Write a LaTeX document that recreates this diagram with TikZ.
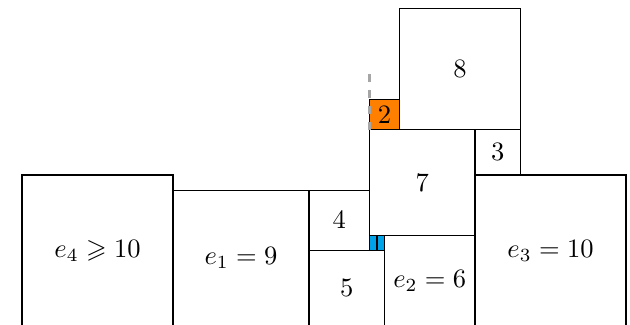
\documentclass[tikz,border=0pt]{standalone}
\usepackage{amssymb}
\usetikzlibrary{calc}
\definecolor{sqorange}{RGB}{255,128,0}
\definecolor{sqblue}{RGB}{0,162,232}
\tikzset{
  sqline/.style={draw=black, line width=0.45pt},
  sqlabel/.style={inner sep=0pt, font=\normalsize},
  guide/.style={draw=gray!70, dashed, line width=0.9pt}
}
\begin{document}
\begin{tikzpicture}[x=0.2cm,y=0.2cm]
\useasboundingbox (-1.46,0.07) rectangle (40.26,21.59);
\clip (-1.46,0.07) rectangle (40.26,21.59);
% squares
\draw[sqline] (0,0) rectangle (10,10);
\node[sqlabel] (e4) at (5,5) {$e_4 \geqslant 10$};
\draw[sqline] (10,0) rectangle (19,9);
\node[sqlabel] (e1) at (14.5,4.5) {$e_1 = 9$};
\draw[sqline] (19,0) rectangle (24,5);
\node[sqlabel] (s5) at (21.5,2.5) {$5$};
\draw[sqline] (19,5) rectangle (23,9);
\node[sqlabel] (s4) at (21,7) {$4$};
\draw[sqline, fill=sqblue] (23,5) rectangle (23.5,6);
\draw[sqline, fill=sqblue] (23.5,5) rectangle (24,6);
\draw[sqline] (24,0) rectangle (30,6);
\node[sqlabel] (e2) at (27,3) {$e_2 = 6$};
\draw[sqline] (30,0) rectangle (40,10);
\node[sqlabel] (e3) at (35,5) {$e_3 = 10$};
\draw[sqline] (23,6) rectangle (30,13);
\node[sqlabel] (s7) at (26.5,9.5) {$7$};
\draw[sqline] (30,10) rectangle (33,13);
\node[sqlabel] (s3) at (31.5,11.5) {$3$};
\draw[sqline] (25,13) rectangle (33,21);
\node[sqlabel] (s8) at (29,17) {$8$};
\draw[sqline, fill=sqorange] (23,13) rectangle (25,15);
\node[sqlabel] (s2) at (24,14) {$2$};
% guide
\coordinate (gbot) at (23,13);
\coordinate (gtop) at (23,17);
\draw[guide] (gbot) -- (gtop);
\end{tikzpicture}
\end{document}
